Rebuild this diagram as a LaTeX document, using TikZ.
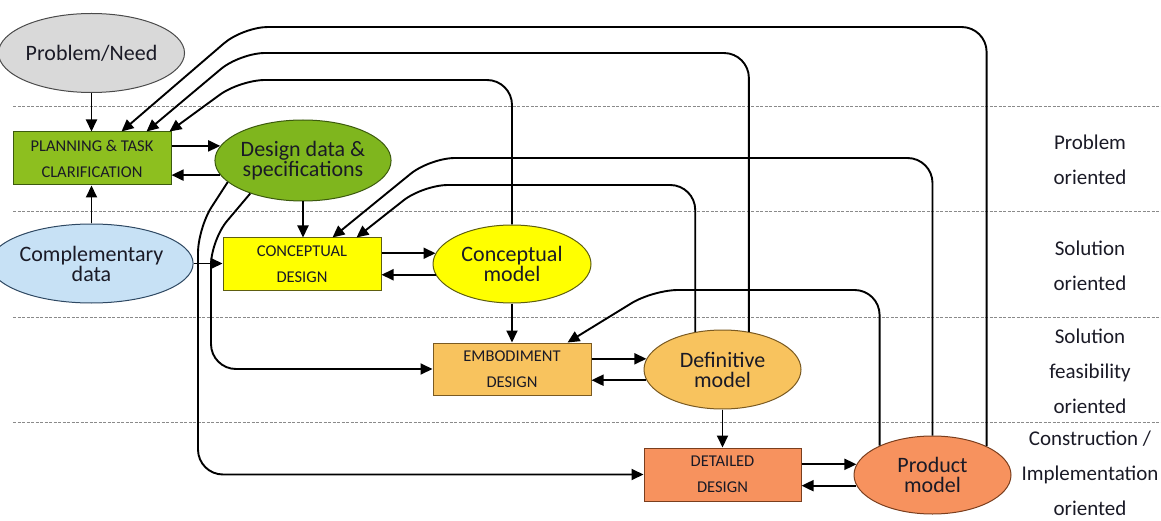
\documentclass[tikz,border=0pt]{standalone}
\usepackage{fontspec}
\setmainfont{Carlito}
\usetikzlibrary{arrows.meta,shapes.geometric}

\definecolor{txt}{HTML}{1A1A26}
\definecolor{needfill}{HTML}{D9D9D9}
\definecolor{needline}{HTML}{4A4A4A}
\definecolor{planfill}{HTML}{8DBF1F}
\definecolor{planline}{HTML}{3C5A0E}
\definecolor{ddfill}{HTML}{7FB61E}
\definecolor{ddline}{HTML}{3C5A0E}
\definecolor{compfill}{HTML}{C7E1F5}
\definecolor{compline}{HTML}{2E4862}
\definecolor{yelfill}{HTML}{FFFF00}
\definecolor{yelline}{HTML}{5E5E10}
\definecolor{embfill}{HTML}{F8C35E}
\definecolor{embline}{HTML}{7A5A22}
\definecolor{detfill}{HTML}{F7925E}
\definecolor{detline}{HTML}{7A3E1E}
\definecolor{bandline}{HTML}{8A8A8A}

\tikzset{
  oval/.style={ellipse, draw, line width=1pt, minimum width=157pt, minimum height=79pt,
    inner sep=0pt, align=center, text=txt, font=\fontsize{22}{20}\selectfont},
  stagebox/.style={rectangle, draw, line width=1pt, minimum width=158pt, minimum height=53pt,
    inner sep=0pt, align=center, text=txt, font=\fontsize{16.5}{26}\selectfont},
  band/.style={draw=bandline, line width=1pt, dash pattern=on 3pt off 1.5pt},
  arr/.style={line width=1.9pt, -{Triangle[length=12pt,width=11pt]}},
  loopback/.style={arr, rounded corners=25pt},
  levellabel/.style={align=center, text=txt, font=\fontsize{21}{35}\selectfont},
}

\begin{document}
\begin{tikzpicture}[x=1pt,y=-1pt]
\useasboundingbox (0,0) rectangle (1161,521);

% level separators
\draw[band] (13,107) -- (1161,107);
\draw[band] (13,212) -- (1161,212);
\draw[band] (13,317) -- (1161,317);
\draw[band] (13,422) -- (1161,422);

% nodes
\node[oval, fill=needfill, draw=needline] (need) at (91.5,53) {Problem/Need};
\node[stagebox, fill=planfill, draw=planline] (plan) at (92,158.5) {PLANNING \& TASK\\CLARIFICATION};
\node[oval, fill=ddfill, draw=ddline, minimum height=81pt] (dd) at (303,160.5) {Design data \&\\specifications};
\node[oval, fill=compfill, draw=compline] (comp) at (91.5,263.5) {Complementary\\data};
\node[stagebox, fill=yelfill, draw=yelline, minimum height=52pt] (cdes) at (302,264) {CONCEPTUAL\\DESIGN};
\node[oval, fill=yelfill, draw=yelline, minimum width=158pt, minimum height=78pt] (cmod) at (512,264) {Conceptual\\model};
\node[stagebox, fill=embfill, draw=embline, minimum height=52pt] (emb) at (512,369) {EMBODIMENT\\DESIGN};
\node[oval, fill=embfill, draw=embline] (defm) at (722.5,369.5) {Definitive\\model};
\node[stagebox, fill=detfill, draw=detline, minimum width=157pt] (det) at (722.5,474.5) {DETAILED\\DESIGN};
\node[oval, fill=detfill, draw=detline, minimum height=78pt] (prod) at (932.5,475) {Product\\model};

% level labels
\node[levellabel] (lv1) at (1090,160) {Problem\\oriented};
\node[levellabel] (lv2) at (1090,265.5) {Solution\\oriented};
\node[levellabel] (lv3) at (1090,371) {Solution\\feasibility\\oriented};
\node[levellabel] (lv4) at (1090,473) {Construction /\\Implementation\\oriented};

% forward flow
\draw[arr] (need.south) -- (plan.north -| need.south);
\draw[arr] (comp.north) -- (plan.south -| comp.north);
\draw[arr] (plan.east |- dd.170) -- (dd.170);
\draw[arr] (dd.190) -- (plan.east |- dd.190);
\draw[arr] (dd.south) -- (cdes.north -| dd.south);
\draw[arr] (comp.east) -- (cdes.west |- comp.east);
\draw[arr] (cdes.east |- cmod.172) -- (cmod.172);
\draw[arr] (cmod.188) -- (cdes.east |- cmod.188);
\draw[arr] (cmod.south) -- (emb.north -| cmod.south);
\draw[arr] (emb.east |- defm.172) -- (defm.172);
\draw[arr] (defm.188) -- (emb.east |- defm.188);
\draw[arr] (defm.south) -- (det.north -| defm.south);
\draw[arr] (det.east |- prod.172) -- (prod.172);
\draw[arr] (prod.188) -- (det.east |- prod.188);

% specifications feeding the later stages
\coordinate (sA) at (198,228);
\coordinate (sB) at (211,240);
\draw[loopback] (dd.196.5) -- (sA) |- (det.west);
\draw[loopback] (dd.212) -- (sB) |- (emb.west);

% feedback loops
\coordinate (k1) at (243,27);
\coordinate (k2) at (240,53);
\coordinate (k3) at (240,80);
\coordinate (k4) at (430,158);
\coordinate (k5) at (423,185);
\coordinate (k6) at (653,290);
\draw[loopback] (prod.28.9) |- (k1) -- ([xshift=109pt]plan.north west);
\draw[loopback] (defm.55.7) |- (k2) -- ([xshift=134pt]plan.north west);
\draw[loopback] (cmod.north) |- (k3) -- ([xshift=-2pt]plan.north east);
\draw[loopback] (prod.north) |- (k4) -- ([xshift=110pt]cdes.north west);
\draw[loopback] (defm.126.6) |- (k5) -- ([xshift=134pt]cdes.north west);
\draw[loopback] (prod.151.1) |- (k6) -- ([xshift=135pt]emb.north west);
\end{tikzpicture}
\end{document}
